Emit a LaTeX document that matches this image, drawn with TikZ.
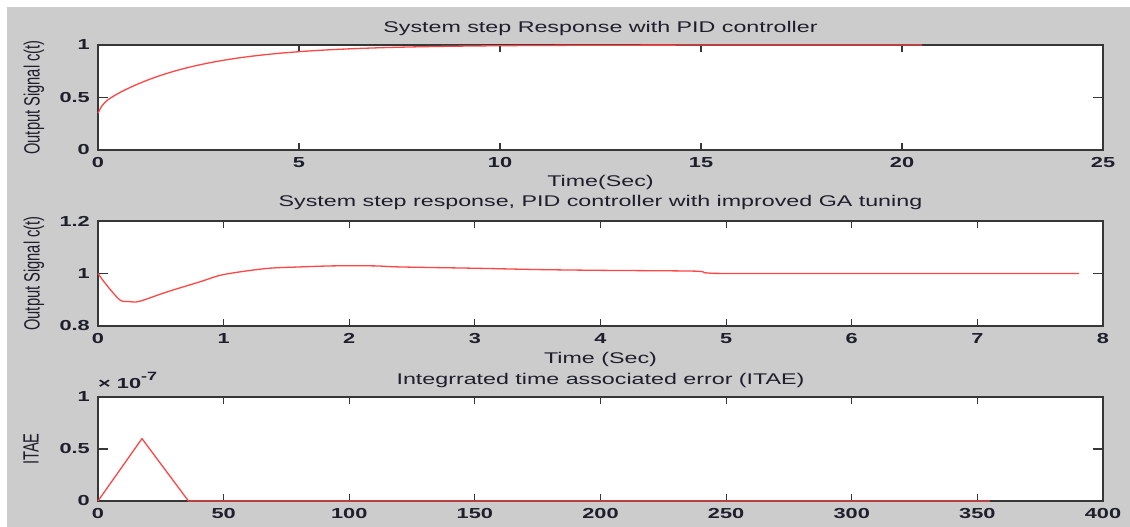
\documentclass[tikz,border=0pt]{standalone}
\usepackage{fontspec}
\setmainfont{Liberation Sans}[FakeStretch=1.5]
\newfontfamily\vlabfont{Liberation Sans}
\usetikzlibrary{positioning}
\usetikzlibrary{calc}

\definecolor{figgray}{RGB}{204,204,204}
\definecolor{axcol}{RGB}{55,55,55}
\definecolor{txtcol}{RGB}{30,30,45}
\definecolor{curve}{RGB}{255,70,70}

% vertical axis labels, turned and widened like the rest of the text
\newcommand{\vlab}[1]{\scalebox{1.5}[1]{\rotatebox{90}{\vlabfont\fontsize{14.7}{16}\selectfont #1}}}

\begin{document}
\begin{tikzpicture}
  [x=1pt,y=1pt,
  axbox/.style={draw=axcol,line width=1.4pt,fill=white},
  tick/.style={draw=axcol,line width=1.2pt},
  ticklab/.style={text=txtcol,font=\bfseries\fontsize{14.5}{15}\selectfont,inner sep=0pt},
  titletxt/.style={text=txtcol,font=\fontsize{15.5}{17}\selectfont,inner sep=0pt,anchor=base},
  vlabtxt/.style={text=txtcol,inner sep=0pt},
  resp/.style={draw=curve,line width=1.3pt,line join=round}]

  \useasboundingbox (0,0) rectangle (1130,527);
  \fill[white] (0,0) rectangle (1130,527);
  \fill[figgray] (7,0) rectangle (1130,520);

  % step response with PID
  \begin{scope}[shift={(98,377)},x=40.2pt,y=105pt]
    \draw[axbox] (0,0) rectangle (25,1);
    \foreach \t in {0,5,...,25} {
      \draw[tick] (\t,0) -- ++(0pt,7pt) (\t,1) -- ++(0pt,-7pt);
      \node[ticklab,below=7pt] (xa\t) at (\t,0) {\t};
    }
    \foreach \y [count=\i] in {0,0.5,1} {
      \draw[tick] (0,\y) -- ++(10pt,0pt) (25,\y) -- ++(-10pt,0pt);
      \node[ticklab,left=8pt] (ya\i) at (0,\y) {\y};
    }
    \draw[resp] plot[domain=0:20.5,samples=250] (\x,{1-0.075*exp(-min(10*\x,15))-0.575*exp(-0.44*\x)});
    \node[titletxt] (title1) at ([yshift=12pt]12.5,1) {System step Response with PID controller};
    \node[titletxt] (xlab1) at ([yshift=-37pt]12.5,0) {Time(Sec)};
    \node[vlabtxt] (ylab1) at ([xshift=-64pt]0,0.5) {\vlab{Output Signal c(t)}};
  \end{scope}

  % step response with GA tuned PID
  \begin{scope}[shift={(98,-9)},x=125.625pt,y=262.5pt]
    \draw[axbox] (0,0.8) rectangle (8,1.2);
    \foreach \t in {0,...,8} {
      \draw[tick] (\t,0.8) -- ++(0pt,7pt) (\t,1.2) -- ++(0pt,-7pt);
      \node[ticklab,below=7pt] (xb\t) at (\t,0.8) {\t};
    }
    \foreach \y [count=\i] in {0.8,1,1.2} {
      \draw[tick] (0,\y) -- ++(10pt,0pt) (8,\y) -- ++(-10pt,0pt);
      \node[ticklab,left=8pt] (yb\i) at (0,\y) {\y};
    }
    \draw[resp] plot[smooth,tension=0.5] coordinates {(0,1) (0.07,0.955) (0.175,0.899) (0.25,0.893)
      (0.33,0.894) (0.55,0.93) (0.81,0.968) (1.0,0.996) (1.34,1.019) (1.61,1.025) (1.87,1.029)
      (2.2,1.029) (2.4,1.025) (3,1.02) (3.5,1.015) (4,1.012) (4.75,1.009) (4.85,1.002) (5.2,1.0) (7.81,1.0)};
    \node[titletxt] (title2) at ([yshift=14pt]4,1.2) {System step response, PID controller with improved GA tuning};
    \node[titletxt] (xlab2) at ([yshift=-38pt]4,0.8) {Time (Sec)};
    \node[vlabtxt] (ylab2) at ([xshift=-64pt]0,1) {\vlab{Output Signal c(t)}};
  \end{scope}

  % ITAE
  \begin{scope}[shift={(98,26)},x=2.5125pt,y=104pt]
    \draw[axbox] (0,0) rectangle (400,1);
    \foreach \t in {0,50,...,400} {
      \draw[tick] (\t,0) -- ++(0pt,7pt) (\t,1) -- ++(0pt,-7pt);
      \node[ticklab,below=7pt] (xc\t) at (\t,0) {\t};
    }
    \foreach \y [count=\i] in {0,0.5,1} {
      \draw[tick] (0,\y) -- ++(10pt,0pt) (400,\y) -- ++(-10pt,0pt);
      \node[ticklab,left=8pt] (yc\i) at (0,\y) {\y};
    }
    \draw[resp] (0,0) -- (17.5,0.6) -- (36,0) -- (355,0);
    \node[ticklab,anchor=base west] (expo) at ([yshift=8pt]0,1) {×~10\raisebox{8pt}{\fontsize{12}{12}\selectfont -7}};
    \node[titletxt] (title3) at ([yshift=12pt]200,1) {Integrrated time associated error (ITAE)};
    \node[vlabtxt] (ylab3) at ([xshift=-67pt]0,0.5) {\vlab{ITAE}};
  \end{scope}
\end{tikzpicture}
\end{document}
